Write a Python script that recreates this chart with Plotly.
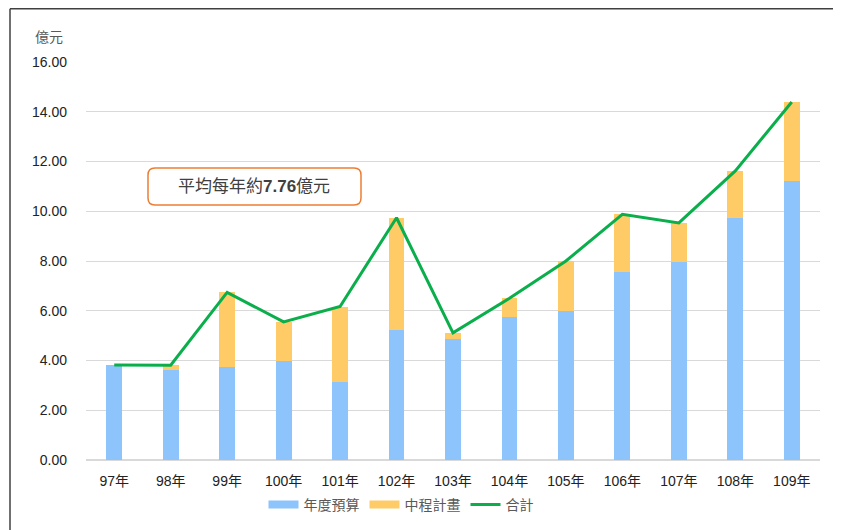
import plotly.graph_objects as go

years = ["97年", "98年", "99年", "100年", "101年", "102年", "103年",
         "104年", "105年", "106年", "107年", "108年", "109年"]
annual_budget = [3.82, 3.63, 3.74, 3.97, 3.15, 5.23, 4.85, 5.75, 5.98, 7.57, 7.95, 9.74, 11.23]
mid_term_plan = [0.00, 0.18, 3.00, 1.58, 3.02, 4.51, 0.26, 0.75, 2.02, 2.31, 1.58, 1.88, 3.16]
total = [round(a + b, 2) for a, b in zip(annual_budget, mid_term_plan)]
y_ticks = [0, 2, 4, 6, 8, 10, 12, 14, 16]
avg_text = "平均每年約<b>7.76</b>億元"

FONT = "Arial, 'Liberation Sans', 'Noto Sans CJK TC', sans-serif"
BLUE, ORANGE, GREEN = "#8EC4FC", "#FFCB66", "#0AAF4C"

fig = go.Figure()
fig.add_trace(go.Bar(x=years, y=annual_budget, name="年度預算", showlegend=False,
                     legendgroup="a", marker=dict(color=BLUE, line=dict(width=0))))
fig.add_trace(go.Bar(x=years, y=mid_term_plan, name="中程計畫", showlegend=False,
                     legendgroup="b", marker=dict(color=ORANGE, line=dict(width=0))))
fig.add_trace(go.Scatter(x=years, y=total, name="合計", mode="lines", showlegend=False,
                         legendgroup="c", line=dict(color=GREEN, width=3)))
# legend entries drawn as wide swatches like the original
fig.add_trace(go.Scatter(x=[None], y=[None], name="年度預算", mode="lines", legendgroup="a",
                         line=dict(color=BLUE, width=8)))
fig.add_trace(go.Scatter(x=[None], y=[None], name="中程計畫", mode="lines", legendgroup="b",
                         line=dict(color=ORANGE, width=8)))
fig.add_trace(go.Scatter(x=[None], y=[None], name="合計", mode="lines", legendgroup="c",
                         line=dict(color=GREEN, width=3)))

# page has an 8px body margin; plot area in page pixels: x 86..820, y 62..460
OFF = 8
W, H = 734.0, 398.0
def px(xp):
    return (xp - 86) / W
def py(yp):
    return (460 - yp) / H

# rounded annotation box
x0, x1, y0, y1 = px(148), px(361), py(205), py(168)
rx, ry = 7 / W, 7 / H
path = (f"M {x0+rx},{y0} L {x1-rx},{y0} Q {x1},{y0} {x1},{y0+ry} "
        f"L {x1},{y1-ry} Q {x1},{y1} {x1-rx},{y1} L {x0+rx},{y1} "
        f"Q {x0},{y1} {x0},{y1-ry} L {x0},{y0+ry} Q {x0},{y0} {x0+rx},{y0} Z")
fig.add_shape(type="path", xref="paper", yref="paper", path=path,
              line=dict(color="#ED7D31", width=1.5), fillcolor="white", layer="above")
fig.add_annotation(xref="paper", yref="paper", x=(x0 + x1) / 2, y=(y0 + y1) / 2,
                   xanchor="center", yanchor="middle",
                   text=avg_text, showarrow=False,
                   font=dict(family=FONT, size=17, color="#404040"))

# outer frame (left and top edges visible)
fig.add_shape(type="line", xref="paper", yref="paper",
              x0=px(10), x1=px(10), y0=py(540), y1=py(8.8),
              line=dict(color="#404040", width=1.5))
fig.add_shape(type="line", xref="paper", yref="paper",
              x0=px(10), x1=px(850), y0=py(8.8), y1=py(8.8),
              line=dict(color="#404040", width=1.5))

fig.add_annotation(xref="paper", yref="paper", x=px(49), y=py(37.5),
                   text="億元", showarrow=False, xanchor="center", yanchor="middle",
                   font=dict(family=FONT, size=14, color="#595959"))

fig.update_layout(
    width=841 - OFF, height=530 - OFF,
    margin=dict(l=86 - OFF, r=21, t=62 - OFF, b=70, pad=0, autoexpand=False),
    barmode="stack", bargap=0.72,
    plot_bgcolor="white", paper_bgcolor="white",
    font=dict(family=FONT, size=14, color="#222222"),
    showlegend=True,
    legend=dict(orientation="h", x=px(401), xanchor="center", y=py(505), yanchor="middle",
                font=dict(family=FONT, size=14, color="#595959"), traceorder="normal",
                itemwidth=30, tracegroupgap=0),
    xaxis=dict(showgrid=False, showline=False, ticks="", ticklabelstandoff=11,
               automargin=False, tickfont=dict(size=14, color="#222222")),
    yaxis=dict(range=[0, 16], tickvals=y_ticks, ticktext=[f"{v:.2f}" for v in y_ticks],
               showgrid=True, gridcolor="#D9D9D9", gridwidth=1, zeroline=True,
               zerolinecolor="#D9D9D9", zerolinewidth=1.5, showline=False, automargin=False,
               ticks="", ticklabelstandoff=18, tickfont=dict(size=14, color="#222222")),
)

fig.write_html("out.html")
